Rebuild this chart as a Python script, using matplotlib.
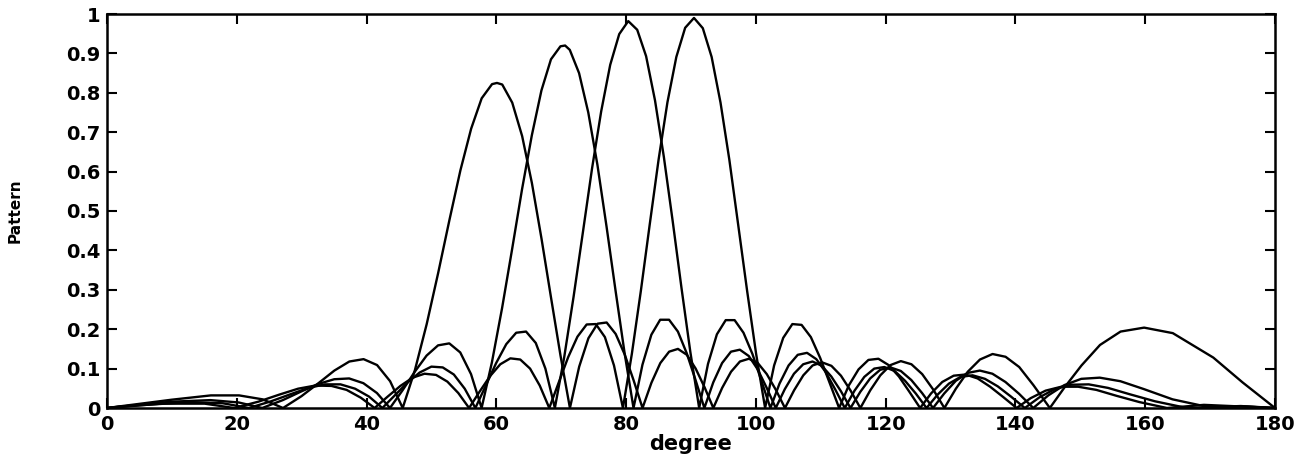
import matplotlib.pyplot as plt

# beam steered to ~60 deg
beam60_deg = [0, 9.94, 16.01, 20.36, 23.97, 27.13, 29.97, 32.59, 35.04, 37.35, 39.54, 41.62, 43.63,
              45.57, 47.45, 49.27, 51.04, 52.77, 54.46, 56.12, 57.74, 59.34, 60.1, 60.91, 62.45, 63.98,
              65.48, 66.97, 68.44, 69.89, 71.34, 72.77, 74.19, 75.60, 77.00, 78.39, 79.78, 81.16,
              82.53, 83.90, 85.27, 86.63, 87.99, 89.36, 90.72, 92.08, 93.44, 94.80, 96.17, 97.54,
              98.92, 100.30, 101.68, 103.08, 104.48, 105.89, 107.31, 108.74, 110.18, 111.64, 113.11,
              114.60, 116.10, 117.63, 119.18, 120.75, 122.34, 123.97, 125.63, 127.32, 129.05, 130.82,
              132.65, 134.53, 136.47, 138.48, 140.58, 142.77, 145.3, 147.55, 150.18, 153.03, 156.20,
              159.83, 164.25, 170.49, 175.0, 180]
beam60_val = [0, 0.021, 0.032, 0.032, 0.022, 0, 0.030, 0.063, 0.095, 0.118, 0.124, 0.109, 0.068,
              0, 0.096, 0.213, 0.343, 0.477, 0.603, 0.709, 0.786, 0.822, 0.825, 0.821, 0.775, 0.690,
              0.571, 0.429, 0.279, 0.133, 0, 0.105, 0.177, 0.214, 0.217, 0.188, 0.136, 0.070,
              0, 0.064, 0.114, 0.143, 0.150, 0.135, 0.100, 0.053, 0, 0.051, 0.092, 0.118,
              0.125, 0.114, 0.086, 0.046, 0, 0.045, 0.083, 0.108, 0.116, 0.107, 0.082,
              0.044, 0, 0.045, 0.083, 0.109, 0.119, 0.111, 0.086, 0.047, 0, 0.049,
              0.092, 0.123, 0.137, 0.130, 0.104, 0.058, 0, 0.052, 0.108, 0.160, 0.194,
              0.204, 0.190, 0.128, 0.065, 0]

# beam steered to ~70 deg
beam70_deg = [0, 9.86, 15.94, 20.31, 23.92, 27.09, 29.94, 32.56, 35.02, 37.32, 39.51, 41.60, 43.61,
              45.55, 47.43, 49.25, 51.02, 52.75, 54.44, 56.10, 57.73, 59.32, 60.89, 62.43, 63.96,
              65.47, 66.95, 68.42, 69.88, 70.6, 71.32, 72.75, 74.17, 75.58, 76.98, 78.38, 79.76, 81.14,
              82.52, 83.89, 85.25, 86.62, 87.98, 89.34, 90.70, 92.06, 93.43, 94.79, 96.16, 97.53,
              98.90, 100.28, 101.67, 103.06, 104.46, 105.87, 107.29, 108.72, 110.17, 111.62, 113.09,
              114.58, 116.09, 117.61, 119.16, 120.73, 122.33, 123.95, 125.61, 127.30, 129.03, 130.81,
              132.63, 134.51, 136.45, 138.46, 140.56, 142.75, 145.06, 147.52, 150.14, 152.99, 156.17,
              159.79, 164.21, 170.40, 175.0, 180]
beam70_val = [0, 0.016, 0.020, 0.014, 0, 0.020, 0.042, 0.061, 0.073, 0.075, 0.063, 0.038, 0,
              0.045, 0.092, 0.133, 0.159, 0.164, 0.141, 0.086, 0, 0.116, 0.254, 0.403, 0.555,
              0.692, 0.806, 0.885, 0.918, 0.920, 0.909, 0.850, 0.750, 0.617, 0.461, 0.297, 0.140, 0,
              0.110, 0.186, 0.224, 0.224, 0.194, 0.139, 0.071, 0, 0.065, 0.114, 0.143, 0.148,
              0.132, 0.098, 0.051, 0, 0.048, 0.087, 0.111, 0.118, 0.107, 0.080, 0.043,
              0, 0.041, 0.075, 0.097, 0.103, 0.094, 0.071, 0.038, 0, 0.037, 0.069,
              0.089, 0.095, 0.087, 0.066, 0.036, 0, 0.032, 0.058, 0.074, 0.077, 0.068,
              0.048, 0.022, 0, 0.004, 0]

# beam steered to ~80 deg
beam80_deg = [0, 2.22, 12.71, 17.86, 21.88, 25.28, 28.30, 31.05, 33.59, 35.98, 38.23, 40.38, 42.44,
              44.41, 46.33, 48.18, 49.99, 51.74, 53.45, 55.13, 56.77, 58.38, 59.97, 61.53, 63.06,
              64.58, 66.08, 67.56, 69.02, 70.47, 71.91, 73.34, 74.75, 76.16, 77.55, 78.94, 80.33,
              81.71, 83.08, 84.45, 85.81, 87.18, 88.54, 89.90, 91.26, 92.62, 93.99, 95.35, 96.72,
              98.09, 99.47, 100.85, 102.24, 103.64, 105.04, 106.45, 107.88, 109.31, 110.76, 112.23,
              113.70, 115.20, 116.71, 118.24, 119.80, 121.38, 122.99, 124.63, 126.30, 128.01, 129.76,
              131.55, 133.39, 135.30, 137.27, 139.31, 141.45, 143.69, 146.05, 148.57, 151.29, 154.27,
              157.59, 161.51, 166.41, 174.72, 180]
beam80_val = [0, 0.004, 0.015, 0.012, 0, 0.017, 0.035, 0.051, 0.060, 0.060, 0.049, 0.029, 0,
              0.033, 0.065, 0.090, 0.105, 0.103, 0.085, 0.049, 0, 0.057, 0.114, 0.162, 0.191,
              0.194, 0.165, 0.100, 0, 0.130, 0.283, 0.446, 0.608, 0.753, 0.871, 0.949, 0.982,
              0.960, 0.893, 0.781, 0.638, 0.474, 0.304, 0.142, 0, 0.112, 0.187, 0.223, 0.223,
              0.191, 0.137, 0.069, 0, 0.062, 0.108, 0.135, 0.140, 0.124, 0.091, 0.047,
              0, 0.044, 0.079, 0.100, 0.104, 0.094, 0.069, 0.037, 0, 0.034, 0.062,
              0.079, 0.083, 0.074, 0.055, 0.029, 0, 0.027, 0.048, 0.059, 0.060, 0.051,
              0.035, 0.017, 0, 0.005, 0]

# beam steered to ~90 deg
beam90_deg = [0, 8.31, 15.05, 19.60, 23.32, 26.56, 29.45, 32.11, 34.59, 36.92, 39.13, 41.24,
              43.26, 45.21, 47.10, 48.93, 50.71, 52.45, 54.14, 55.80, 57.44, 59.04, 60.61, 62.16,
              63.69, 65.20, 66.69, 68.16, 69.62, 71.07, 72.50, 73.92, 75.33, 76.73, 78.13, 79.51,
              80.89, 82.27, 83.64, 85.01, 86.37, 87.74, 89.10, 90.46, 91.82, 93.18, 94.55, 95.91,
              97.28, 98.66, 100.03, 101.42, 102.81, 104.21, 105.62, 107.04, 108.47, 109.91, 111.36,
              112.83, 114.31, 115.82, 117.34, 118.88, 120.45, 122.04, 123.66, 125.31, 127.00, 128.72,
              130.48, 132.30, 134.17, 136.10, 138.10, 140.18, 142.35, 144.64, 147.07, 149.66, 152.46,
              155.56, 159.11, 163.35, 169.04, 180]
beam90_val = [0, 0.011, 0.011, 0, 0.016, 0.034, 0.049, 0.057, 0.056, 0.046, 0.026, 0,
              0.029, 0.056, 0.077, 0.087, 0.084, 0.067, 0.038, 0, 0.042, 0.081, 0.111, 0.126,
              0.123, 0.100, 0.057, 0, 0.065, 0.129, 0.181, 0.212, 0.213, 0.180, 0.108, 0,
              0.138, 0.297, 0.466, 0.631, 0.776, 0.891, 0.965, 0.990, 0.964, 0.891, 0.775, 0.630,
              0.464, 0.296, 0.138, 0, 0.108, 0.178, 0.213, 0.211, 0.180, 0.127, 0.064,
              0, 0.057, 0.098, 0.122, 0.125, 0.109, 0.080, 0.041, 0, 0.037, 0.066,
              0.082, 0.085, 0.075, 0.054, 0.028, 0, 0.025, 0.044, 0.054, 0.054, 0.046,
              0.031, 0.015, 0, 0.008, 0]

x_ticks = [0, 20, 40, 60, 80, 100, 120, 140, 160, 180]
y_ticks = [0, 0.1, 0.2, 0.3, 0.4, 0.5, 0.6, 0.7, 0.8, 0.9, 1]
y_tick_labels = ['0', '0.1', '0.2', '0.3', '0.4', '0.5', '0.6', '0.7', '0.8', '0.9', '1']

fig = plt.figure(figsize=(13.09, 4.55), dpi=100)
ax = fig.add_axes([107 / 1309, 47 / 455, 1168 / 1309, 394 / 455])

for xs, ys in [(beam60_deg, beam60_val), (beam70_deg, beam70_val),
               (beam80_deg, beam80_val), (beam90_deg, beam90_val)]:
    ax.plot(xs, ys, color='black', linewidth=1.7)

ax.set_xlim(0, 180)
ax.set_ylim(0, 1)
ax.set_xticks(x_ticks)
ax.set_yticks(y_ticks)
ax.set_yticklabels(y_tick_labels)
ax.tick_params(direction='in', top=True, right=True, length=7, width=1.5,
               labelsize=14, pad=5)
for lab in ax.get_xticklabels() + ax.get_yticklabels():
    lab.set_fontweight('bold')
for sp in ax.spines.values():
    sp.set_linewidth(1.8)

ax.set_xlabel('degree', fontsize=15, fontweight='bold', labelpad=0)
ax.set_ylabel('Pattern', fontsize=11, fontweight='bold')
ax.yaxis.set_label_coords(-0.072, 0.5)

fig.savefig('out.png', dpi=100)
